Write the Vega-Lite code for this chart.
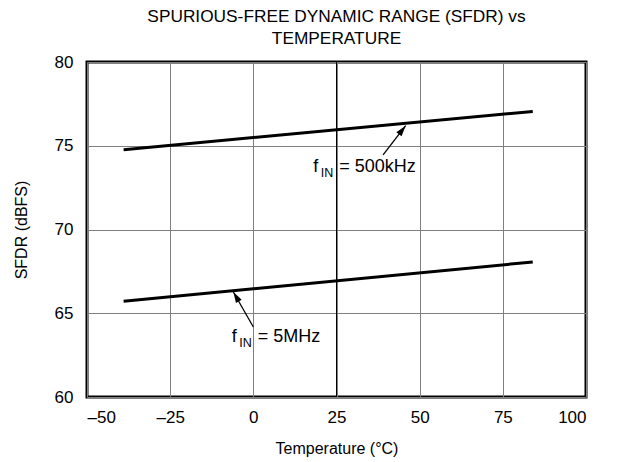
{
  "$schema": "https://vega.github.io/schema/vega-lite/v6.json",
  "width": 499,
  "height": 335,
  "autosize": {"type": "none"},
  "padding": {"left": 87, "top": 62, "right": 35, "bottom": 65},
  "background": "white",
  "title": {
    "text": ["SPURIOUS-FREE DYNAMIC RANGE (SFDR) vs", "TEMPERATURE"],
    "fontSize": 17.3,
    "font": "Liberation Sans",
    "fontWeight": "normal",
    "color": "black",
    "lineHeight": 22,
    "offset": 6,
    "anchor": "middle",
    "frame": "group"
  },
  "config": {
    "font": "Liberation Sans",
    "view": {"stroke": "black", "strokeWidth": 3},
    "axis": {
      "domain": false,
      "ticks": false,
      "grid": true,
      "gridColor": "#7f7f7f",
      "gridWidth": 1,
      "gridOpacity": 1,
      "labelFont": "Liberation Sans",
      "labelFontSize": 17,
      "labelColor": "black",
      "titleFont": "Liberation Sans",
      "titleFontSize": 16,
      "titleFontWeight": "normal",
      "titleColor": "black"
    }
  },
  "datasets": {
    "lines": [
      {"series": "500kHz", "temp": -39, "sfdr": 74.76},
      {"series": "500kHz", "temp": 84, "sfdr": 77.05},
      {"series": "5MHz", "temp": -39, "sfdr": 65.72},
      {"series": "5MHz", "temp": 84, "sfdr": 68.06}
    ],
    "arrows": [
      {"series": "500kHz", "tailT": 39, "tailS": 74.46, "tipT": 45.8, "tipS": 76.2},
      {"series": "5MHz", "tailT": 0, "tailS": 64.18, "tipT": -6, "tipS": 66.27}
    ],
    "labels": [
      {"series": "500kHz", "temp": 18, "sfdr": 73.41, "rest": "= 500kHz"},
      {"series": "5MHz", "temp": -6.5, "sfdr": 63.29, "rest": "= 5MHz"}
    ],
    "darkgrid": [{"temp": 25}]
  },
  "layer": [
    {
      "data": {"name": "darkgrid"},
      "mark": {"type": "rule", "color": "black", "strokeWidth": 1},
      "encoding": {
        "x": {"field": "temp", "type": "quantitative", "scale": {"domain": [-50, 100]}}
      }
    },
    {
      "data": {"name": "lines"},
      "mark": {"type": "line", "color": "black", "strokeWidth": 3},
      "encoding": {
        "x": {
          "field": "temp", "type": "quantitative",
          "scale": {"domain": [-50, 100], "nice": false},
          "axis": {"values": [-50, -25, 0, 25, 50, 75, 100], "labelExpr": "replace(datum.label, '−', '–')", "labelPadding": 12, "title": "Temperature (°C)", "titlePadding": 15}
        },
        "y": {
          "field": "sfdr", "type": "quantitative",
          "scale": {"domain": [60, 80], "nice": false, "zero": false},
          "axis": {"values": [60, 65, 70, 75, 80], "labelPadding": 14, "title": "SFDR (dBFS)", "titlePadding": 25}
        },
        "detail": {"field": "series"}
      }
    },
    {
      "data": {"name": "arrows"},
      "mark": {"type": "rule", "color": "black", "strokeWidth": 1.3},
      "encoding": {
        "x": {"field": "tailT", "type": "quantitative"},
        "y": {"field": "tailS", "type": "quantitative"},
        "x2": {"field": "tipT"},
        "y2": {"field": "tipS"}
      }
    },
    {
      "data": {"name": "arrows"},
      "transform": [{"filter": "datum.series === '500kHz'"}],
      "mark": {"type": "point", "shape": "M0,0L-1.2,4L1.2,4Z", "filled": true, "color": "black", "opacity": 1, "size": 30, "angle": 38},
      "encoding": {
        "x": {"field": "tipT", "type": "quantitative"},
        "y": {"field": "tipS", "type": "quantitative"}
      }
    },
    {
      "data": {"name": "arrows"},
      "transform": [{"filter": "datum.series === '5MHz'"}],
      "mark": {"type": "point", "shape": "M0,0L-1.2,4L1.2,4Z", "filled": true, "color": "black", "opacity": 1, "size": 30, "angle": -30},
      "encoding": {
        "x": {"field": "tipT", "type": "quantitative"},
        "y": {"field": "tipS", "type": "quantitative"}
      }
    },
    {
      "data": {"name": "labels"},
      "mark": {"type": "text", "text": "f", "align": "left", "baseline": "alphabetic", "fontSize": 18, "color": "black"},
      "encoding": {
        "x": {"field": "temp", "type": "quantitative"},
        "y": {"field": "sfdr", "type": "quantitative"}
      }
    },
    {
      "data": {"name": "labels"},
      "mark": {"type": "text", "text": "IN", "align": "left", "baseline": "alphabetic", "fontSize": 12.5, "dx": 7.5, "dy": 5, "color": "black"},
      "encoding": {
        "x": {"field": "temp", "type": "quantitative"},
        "y": {"field": "sfdr", "type": "quantitative"}
      }
    },
    {
      "data": {"name": "labels"},
      "mark": {"type": "text", "align": "left", "baseline": "alphabetic", "fontSize": 18, "dx": 26, "color": "black"},
      "encoding": {
        "x": {"field": "temp", "type": "quantitative"},
        "y": {"field": "sfdr", "type": "quantitative"},
        "text": {"field": "rest"}
      }
    }
  ]
}
